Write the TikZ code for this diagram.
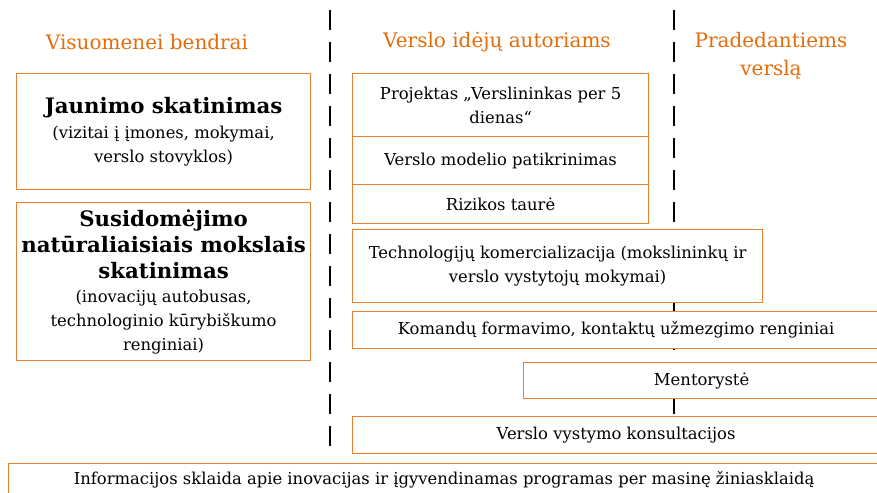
\documentclass[tikz,border=0pt]{standalone}
\usepackage{fontspec}
\setmainfont{DejaVu Serif}
\usetikzlibrary{positioning}
\definecolor{headorange}{RGB}{228,108,10}
\definecolor{boxorange}{RGB}{232,128,50}
\newcommand{\boxtitle}{\fontsize{21.3}{26}\selectfont\bfseries}

\begin{document}
\begin{tikzpicture}[x=1pt,y=-1pt,
    item/.style={
        draw=boxorange,
        fill=white,
        line width=1.2pt,
        anchor=north west,
        align=center,
        inner sep=0pt,
        font=\fontsize{16.4}{24}\selectfont,
    },
    heading/.style={text=headorange, align=center, font=\fontsize{20}{28}\selectfont},
    divider/.style={line width=1.3pt, dash pattern=on 20pt off 12pt}]
    \clip (0,0) rectangle (877,492);
    % column dividers
    \coordinate (divAtop) at (330,10);
    \coordinate (divAbot) at (330,456);
    \coordinate (divBtop) at (674,10);
    \coordinate (divBbot) at (674,456);
    \draw[divider] (divAtop) -- (divAbot);
    \draw[divider] (divBtop) -- (divBbot);
    % column headings
    \node[heading] (hdPublic) at (147,42) {Visuomenei bendrai};
    \node[heading] (hdAuthors) at (497,42) {Verslo idėjų autoriams};
    \node[heading] (hdStarters) at (771,56) {Pradedantiems\\verslą};
    % first column
    \node[item, minimum width=294, minimum height=116] (youth) at (16,73)
        {{\boxtitle Jaunimo skatinimas}\\[1pt](vizitai į įmones, mokymai,\\verslo stovyklos)};
    \node[item, minimum width=294, minimum height=158] (science) at (16,202)
        {{\boxtitle Susidomėjimo}\\[2pt]{\boxtitle natūraliaisiais mokslais}\\[2pt]{\boxtitle skatinimas}\\(inovacijų autobusas,\\technologinio kūrybiškumo\\renginiai)};
    % second column
    \node[item, minimum width=296, minimum height=63] (project) at (352,73)
        {Projektas „Verslininkas per 5\\dienas“};
    \node[item, minimum width=296, minimum height=48] (model) at (352,136)
        {Verslo modelio patikrinimas};
    \node[item, minimum width=296, minimum height=39] (risk) at (352,184)
        {Rizikos taurė};
    \node[item, minimum width=410, minimum height=73] (tech) at (352,229)
        {Technologijų komercializacija (mokslininkų ir\\verslo vystytojų mokymai)};
    % spanning rows
    \node[item, minimum width=527, minimum height=37] (teams) at (352,311)
        {Komandų formavimo, kontaktų užmezgimo renginiai};
    \node[item, minimum width=356, minimum height=36] (mentor) at (523,362)
        {Mentorystė};
    \node[item, minimum width=527, minimum height=37] (consult) at (352,416)
        {Verslo vystymo konsultacijos};
    \node[item, minimum width=871, minimum height=33] (media) at (8,463)
        {Informacijos sklaida apie inovacijas ir įgyvendinamas programas per masinę žiniasklaidą};
\end{tikzpicture}
\end{document}
